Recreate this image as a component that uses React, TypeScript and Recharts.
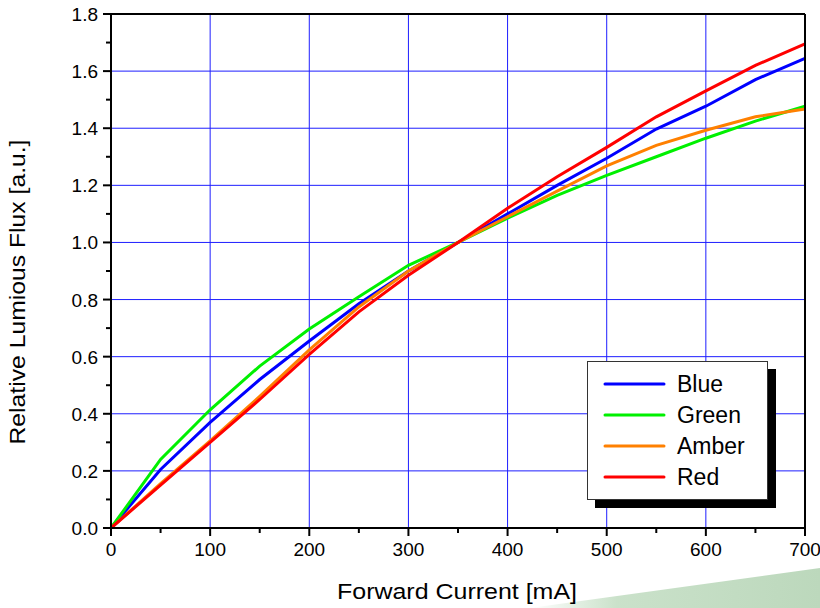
import { CartesianGrid, Line, LineChart, XAxis, YAxis } from "recharts";

const currents = [0, 50, 100, 150, 200, 250, 300, 350, 400, 450, 500, 550, 600, 650, 700];
const blue = [0, 0.205, 0.37, 0.52, 0.655, 0.785, 0.9, 1.0, 1.1, 1.2, 1.295, 1.397, 1.477, 1.57, 1.645];
const green = [0, 0.24, 0.414, 0.567, 0.697, 0.81, 0.92, 1.0, 1.085, 1.165, 1.235, 1.3, 1.365, 1.425, 1.477];
const amber = [0, 0.155, 0.305, 0.461, 0.624, 0.774, 0.9, 1.0, 1.09, 1.18, 1.268, 1.34, 1.393, 1.44, 1.467];
const red = [0, 0.15, 0.3, 0.45, 0.608, 0.757, 0.885, 1.0, 1.12, 1.23, 1.333, 1.44, 1.531, 1.62, 1.695];

const xTicks = [0, 50, 100, 150, 200, 250, 300, 350, 400, 450, 500, 550, 600, 650, 700];
const xGrid = [100, 200, 300, 400, 500, 600];
const yTicks = [0, 0.1, 0.2, 0.3, 0.4, 0.5, 0.6, 0.7, 0.8, 0.9, 1.0, 1.1, 1.2, 1.3, 1.4, 1.5, 1.6, 1.7, 1.8];
const yGrid = [0.2, 0.4, 0.6, 0.8, 1.0, 1.2, 1.4, 1.6];

const series = [
  { key: "blue", name: "Blue", color: "#0000ff" },
  { key: "green", name: "Green", color: "#00f000" },
  { key: "amber", name: "Amber", color: "#ff8000" },
  { key: "red", name: "Red", color: "#ff0000" },
];

const rows = currents.map((c, i) => ({ current: c, blue: blue[i], green: green[i], amber: amber[i], red: red[i] }));

const FONT = '"Liberation Sans", Arial, sans-serif';

function XTick({ x, y, payload }: any) {
  const major = payload.value % 100 === 0;
  return (
    <g>
      <line x1={x} x2={x} y1={y} y2={y + (major ? 8 : 5)} stroke="#000" strokeWidth={2} />
      {major && (
        <text x={x} y={y + 28} textAnchor="middle" fontSize={19} fontFamily={FONT} fill="#000">
          {payload.value}
        </text>
      )}
    </g>
  );
}

function YTick({ x, y, payload }: any) {
  const major = Math.round(payload.value * 10) % 2 === 0;
  return (
    <g>
      <line x1={x} x2={x - (major ? 8 : 5)} y1={y} y2={y} stroke="#000" strokeWidth={2} />
      {major && (
        <text x={x - 13} y={y + 7} textAnchor="end" fontSize={19} fontFamily={FONT} fill="#000">
          {payload.value.toFixed(1)}
        </text>
      )}
    </g>
  );
}

function LegendBox() {
  return (
    <div style={{ position: "absolute", left: 587, top: 361, width: 190, height: 148 }}>
      <div style={{ position: "absolute", left: 8, top: 8, width: 181, height: 139, background: "#000" }} />
      <div
        style={{
          position: "absolute",
          left: 0,
          top: 0,
          width: 179,
          height: 137,
          background: "#fff",
          border: "1px solid #333",
        }}
      >
        <svg width={179} height={137} style={{ display: "block" }}>
          {series.map((s, i) => (
            <g key={s.key}>
              <line x1={17} x2={76} y1={22 + i * 31} y2={22 + i * 31} stroke={s.color} strokeWidth={3} strokeLinecap="round" />
              <text x={89} y={30 + i * 31} fontSize={23} fontFamily={FONT} fill="#000">
                {s.name}
              </text>
            </g>
          ))}
        </svg>
      </div>
    </div>
  );
}

export default function App() {
  return (
    <div style={{ position: "absolute", left: 0, top: 0, width: 820, height: 608, background: "#fff", fontFamily: FONT }}>
      <svg width={820} height={608} style={{ position: "absolute", left: 0, top: 0 }}>
        <defs>
          <linearGradient id="deco" x1="0" x2="1" y1="0" y2="0">
            <stop offset="0" stopColor="#c4dec4" stopOpacity={0} />
            <stop offset="0.3" stopColor="#c4dec4" stopOpacity={0.9} />
            <stop offset="1" stopColor="#bcd8bc" stopOpacity={1} />
          </linearGradient>
        </defs>
        <polygon points="530,608 820,568 820,608" fill="url(#deco)" />
      </svg>
      <div style={{ position: "absolute", left: 0, top: 0 }}>
        <LineChart width={820} height={608} data={rows} margin={{ top: 14, right: 15, bottom: 50, left: 51 }}>
          <CartesianGrid horizontalValues={yGrid} verticalValues={xGrid} stroke="#1e1eff" strokeWidth={1} />
          <XAxis
            dataKey="current"
            type="number"
            domain={[0, 700]}
            ticks={xTicks}
            interval={0}
            height={30}
            tickSize={0}
            tickMargin={0}
            tickLine={false}
            tick={<XTick />}
            axisLine={{ stroke: "#000", strokeWidth: 2 }}
          />
          <XAxis
            xAxisId="top"
            orientation="top"
            dataKey="current"
            type="number"
            domain={[0, 700]}
            ticks={xTicks}
            interval={0}
            height={1}
            mirror
            tickSize={3}
            tick={false}
            tickLine={{ stroke: "#000", strokeWidth: 1 }}
            axisLine={{ stroke: "#000", strokeWidth: 2 }}
          />
          <YAxis
            type="number"
            domain={[0, 1.8]}
            ticks={yTicks}
            interval={0}
            width={60}
            tickSize={0}
            tickMargin={0}
            tickLine={false}
            tick={<YTick />}
            axisLine={{ stroke: "#000", strokeWidth: 2 }}
          />
          <YAxis
            yAxisId="right"
            orientation="right"
            type="number"
            domain={[0, 1.8]}
            ticks={yTicks}
            interval={0}
            width={1}
            mirror
            tickSize={3}
            tick={false}
            tickLine={{ stroke: "#000", strokeWidth: 1 }}
            axisLine={{ stroke: "#000", strokeWidth: 2 }}
          />
          {series.map((s) => (
            <Line
              key={s.key}
              type="linear"
              dataKey={s.key}
              name={s.name}
              stroke={s.color}
              strokeWidth={3}
              dot={false}
              isAnimationActive={false}
            />
          ))}
        </LineChart>
      </div>
      <LegendBox />
      <svg width={820} height={608} style={{ position: "absolute", left: 0, top: 0, pointerEvents: "none" }}>
        <text x={457} y={599} textAnchor="middle" fontSize={22} fontFamily={FONT} fill="#000" textLength={240} lengthAdjust="spacingAndGlyphs">
          Forward Current [mA]
        </text>
        <text
          x={0}
          y={0}
          transform="translate(25,292) rotate(-90)"
          textAnchor="middle"
          fontSize={22}
          fontFamily={FONT}
          fill="#000"
          textLength={305}
          lengthAdjust="spacingAndGlyphs"
        >
          Relative Lumious Flux [a.u.]
        </text>
      </svg>
    </div>
  );
}
